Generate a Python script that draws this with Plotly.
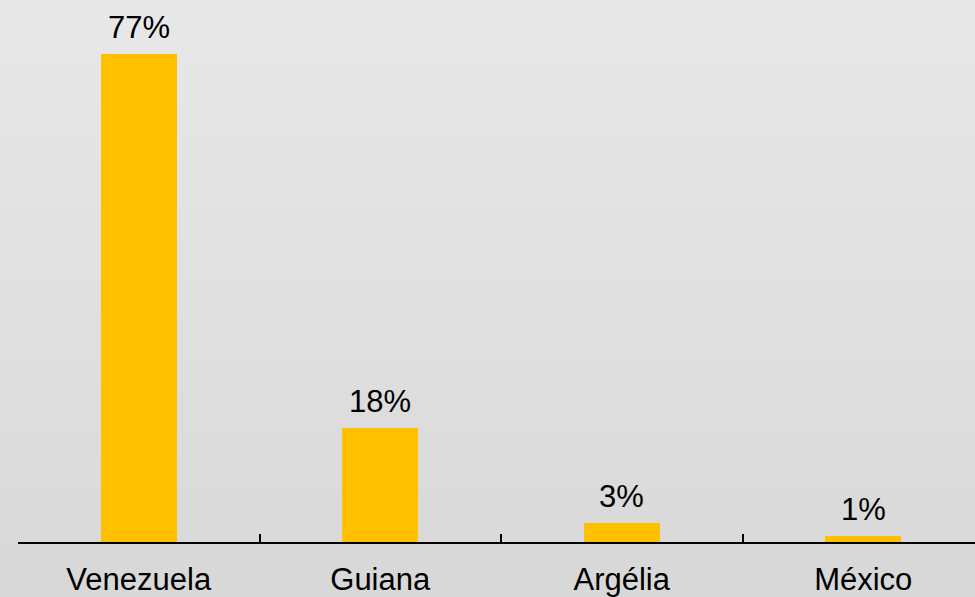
import plotly.graph_objects as go

categories = ["Venezuela", "Guiana", "Argélia", "México"]
values = [77, 18, 3, 1]
labels = ["77%", "18%", "3%", "1%"]

W, H = 975, 597
ml, mr, mt, mb = 18, 0, 0, 55
FS = 31
FONT = "Liberation Sans, Arial"

fig = go.Figure()
fig.add_trace(go.Bar(
    x=categories, y=values,
    marker=dict(color="#FFC000", line=dict(width=0)),
    width=0.315,
    hoverinfo="skip",
))

for c, v, t in zip(categories, values, labels):
    fig.add_annotation(x=c, y=v, text=t, showarrow=False, yanchor="bottom",
                       yshift=7, font=dict(family=FONT, size=FS, color="#000000"))

# background vertical gradient
n = 40
pw = W - ml - mr
ph = H - mt - mb
x0 = -ml / pw
y_bot = -mb / ph
y_top = 1 + mt / ph
top_c = (232, 232, 232)
bot_c = (216, 216, 216)
shapes = []
for i in range(n):
    f = i / (n - 1)
    c = tuple(int(round(top_c[k] + (bot_c[k] - top_c[k]) * f)) for k in range(3))
    ya = y_top - (y_top - y_bot) * i / n
    yb = y_top - (y_top - y_bot) * (i + 1) / n
    shapes.append(dict(type="rect", xref="paper", yref="paper", x0=x0, x1=1.01,
                       y0=yb - 0.002, y1=ya, fillcolor="rgb(%d,%d,%d)" % c,
                       line=dict(width=0), layer="below"))

fig.update_layout(
    width=W, height=H,
    margin=dict(l=ml, r=mr, t=mt, b=mb, pad=0, autoexpand=False),
    paper_bgcolor="#dfdfdf",
    plot_bgcolor="rgba(0,0,0,0)",
    shapes=shapes,
    showlegend=False,
    bargap=0,
    font=dict(family=FONT, size=FS, color="#000000"),
    xaxis=dict(
        type="category",
        range=[-0.5, 3.5 - 9 / 241.5],
        tickson="boundaries",
        ticks="inside", ticklen=8, tickwidth=1.5, tickcolor="#000000",
        showline=True, linecolor="#000000", linewidth=1.5,
        showgrid=False, zeroline=False,
        automargin=False,
        ticklabelstandoff=9,
        tickfont=dict(family=FONT, size=FS, color="#000000"),
        fixedrange=True,
    ),
    yaxis=dict(
        range=[0, 85.5],
        visible=False,
        showgrid=False, zeroline=False,
        automargin=False,
        fixedrange=True,
    ),
)

fig.write_html("out.html", config={"displayModeBar": False},
               post_script="document.body.style.margin='0';document.body.style.overflow='hidden';")
